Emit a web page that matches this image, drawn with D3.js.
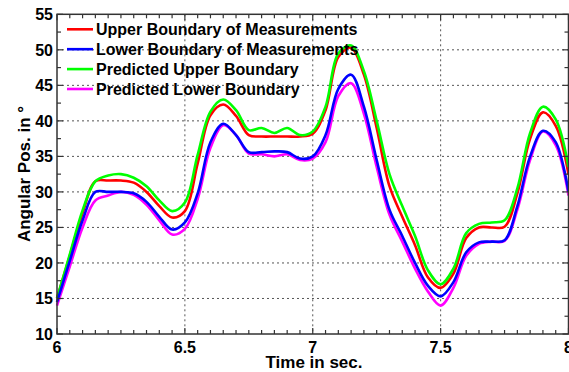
<!DOCTYPE html>
<html>
<head>
<meta charset="utf-8">
<script src="https://cdn.jsdelivr.net/npm/d3@7"></script>
<style>
  html, body { margin: 0; padding: 0; background: #fff; }
  svg { display: block; }
  text { font-family: "Liberation Sans", Arial, sans-serif; font-weight: bold; fill: #000; }
</style>
</head>
<body>
<svg id="chart" width="569" height="372"></svg>
<script>
// -------- DATA --------
const times = [6.00, 6.05, 6.10, 6.15, 6.20, 6.25, 6.30, 6.35, 6.40, 6.45,
               6.50, 6.55, 6.60, 6.65, 6.70, 6.75, 6.80, 6.85, 6.90, 6.95,
               7.00, 7.05, 7.10, 7.15, 7.20, 7.25, 7.30, 7.35, 7.40, 7.45,
               7.50, 7.55, 7.60, 7.65, 7.70, 7.75, 7.80, 7.85, 7.90, 7.95, 8.00];

const upperMeas = [15.0, 21.0, 27.0, 31.5, 31.6, 31.6, 31.3, 30.0, 28.0, 26.4,
                   27.3, 34.0, 40.8, 42.3, 40.7, 38.0, 37.8, 37.8, 37.8, 37.8,
                   38.2, 41.5, 49.0, 50.3, 46.5, 39.0, 30.8, 26.5, 22.5, 18.0,
                   16.5, 18.5, 23.5, 25.0, 25.0, 25.1, 29.8, 37.5, 41.2, 39.3, 32.5];

const lowerMeas = [14.5, 20.3, 26.0, 30.0, 30.0, 30.0, 29.8, 28.6, 26.5, 24.7,
                   25.7, 29.8, 37.0, 39.6, 38.0, 35.6, 35.6, 35.7, 35.6, 34.7,
                   35.0, 38.0, 44.5, 46.5, 42.0, 34.5, 27.5, 23.8, 20.0, 16.8,
                   15.3, 17.3, 21.5, 22.9, 23.0, 23.2, 28.0, 35.0, 38.6, 37.0, 30.0];

const upperPred = [15.0, 21.2, 27.4, 31.5, 32.3, 32.5, 32.0, 30.8, 28.8, 27.3,
                   28.5, 35.2, 41.3, 43.0, 41.5, 38.7, 39.0, 38.3, 39.0, 38.0,
                   38.5, 42.0, 49.5, 50.6, 47.0, 40.0, 32.5, 28.0, 23.8, 19.0,
                   17.0, 19.2, 24.2, 25.5, 25.7, 26.0, 30.5, 38.3, 42.0, 40.2, 33.5];

const lowerPred = [14.0, 19.5, 25.0, 28.8, 29.5, 30.0, 29.6, 28.2, 26.0, 24.0,
                   24.8, 29.0, 36.2, 39.4, 38.0, 35.4, 35.3, 35.0, 35.3, 34.5,
                   34.7, 37.0, 43.5, 45.3, 41.0, 33.5, 26.8, 23.0, 19.2, 16.0,
                   14.0, 16.5, 21.0, 22.7, 23.0, 23.1, 27.5, 34.5, 38.5, 36.6, 29.5];

const seriesNames = ["Upper Boundary of Measurements", "Lower Boundary of Measurements",
                     "Predicted Upper Boundary", "Predicted Lower Boundary"];
const seriesValues = [upperMeas, lowerMeas, upperPred, lowerPred];
const seriesColors = ["#ff0000", "#0000ff", "#00ff00", "#ff00ff"];
const drawOrder = [0, 2, 3, 1];

const xTicks = [6, 6.5, 7, 7.5, 8];
const yTicks = [10, 15, 20, 25, 30, 35, 40, 45, 50, 55];

// -------- LAYOUT --------
const svg = d3.select("#chart");
const plotL = 57, plotR = 568.5, plotT = 14.3, plotB = 334;

const x = d3.scaleLinear().domain([6, 8]).range([plotL, plotR]);
const y = d3.scaleLinear().domain([10, 55]).range([plotB, plotT]);

// -------- GRID --------
const grid = svg.append("g").attr("class", "grid")
  .attr("stroke", "#555").attr("stroke-width", 1).attr("stroke-dasharray", "2,3");

grid.selectAll("line.gx")
  .data(xTicks.filter(d => d > 6 && d < 8))
  .enter().append("line")
  .attr("x1", d => x(d)).attr("x2", d => x(d))
  .attr("y1", plotT).attr("y2", plotB);

grid.selectAll("line.gy")
  .data(yTicks.filter(d => d > 10 && d < 55))
  .enter().append("line")
  .attr("x1", plotL).attr("x2", plotR)
  .attr("y1", d => y(d)).attr("y2", d => y(d));

// -------- CURVES --------
const line = d3.line()
  .x((d, i) => x(times[i]))
  .y(d => y(d))
  .curve(d3.curveCatmullRom.alpha(0.5));

svg.append("g").attr("class", "curves")
  .selectAll("path")
  .data(drawOrder)
  .enter().append("path")
  .attr("d", k => line(seriesValues[k]))
  .attr("fill", "none")
  .attr("stroke", k => seriesColors[k])
  .attr("stroke-width", 2.6)
  .attr("stroke-linejoin", "round");

// -------- AXES (inward ticks on all four sides) --------
const xMinor = d3.range(0, 41).map(i => 6 + i * 0.05);
const yMinor = d3.range(0, 19).map(i => 10 + i * 2.5);

const axisG = svg.append("g").attr("stroke", "#333").attr("stroke-width", 1.2);

function isMajor(v, step) {
  return Math.abs(v / step - Math.round(v / step)) < 1e-6;
}

xMinor.forEach(v => {
  const len = isMajor(v, 0.5) ? 6 : 4;
  axisG.append("line").attr("x1", x(v)).attr("x2", x(v)).attr("y1", plotB).attr("y2", plotB - len);
  axisG.append("line").attr("x1", x(v)).attr("x2", x(v)).attr("y1", plotT).attr("y2", plotT + len);
});
yMinor.forEach(v => {
  const len = isMajor(v, 5) ? 6 : 4;
  axisG.append("line").attr("y1", y(v)).attr("y2", y(v)).attr("x1", plotL).attr("x2", plotL + len);
  axisG.append("line").attr("y1", y(v)).attr("y2", y(v)).attr("x1", plotR).attr("x2", plotR - len);
});

svg.append("rect")
  .attr("x", plotL).attr("y", plotT)
  .attr("width", plotR - plotL).attr("height", plotB - plotT)
  .attr("fill", "none").attr("stroke", "#333").attr("stroke-width", 1.5);

// tick labels
svg.append("g").selectAll("text")
  .data(xTicks)
  .enter().append("text")
  .attr("x", d => x(d)).attr("y", 353)
  .attr("text-anchor", "middle")
  .attr("font-size", 16)
  .text(d => d3.format("~g")(d));

svg.append("g").selectAll("text")
  .data(yTicks)
  .enter().append("text")
  .attr("x", 53).attr("y", d => y(d) + 6)
  .attr("text-anchor", "end")
  .attr("font-size", 16)
  .text(d => d);

// axis titles
svg.append("text")
  .attr("x", 314).attr("y", 368)
  .attr("text-anchor", "middle")
  .attr("font-size", 17)
  .text("Time in sec.");

svg.append("text")
  .attr("transform", "translate(30,174) rotate(-90)")
  .attr("text-anchor", "middle")
  .attr("font-size", 17)
  .text("Angular Pos. in °");

// -------- LEGEND --------
const legend = svg.append("g").attr("class", "legend");
const rows = legend.selectAll("g")
  .data(seriesNames)
  .enter().append("g")
  .attr("transform", (d, i) => `translate(0,${29.3 + i * 19.9})`);

rows.append("line")
  .attr("x1", 67).attr("x2", 93)
  .attr("y1", 0).attr("y2", 0)
  .attr("stroke", (d, i) => seriesColors[i])
  .attr("stroke-width", 2.6);

rows.append("text")
  .attr("x", 96).attr("y", 6)
  .attr("font-size", 16)
  .text(d => d);
</script>
</body>
</html>
